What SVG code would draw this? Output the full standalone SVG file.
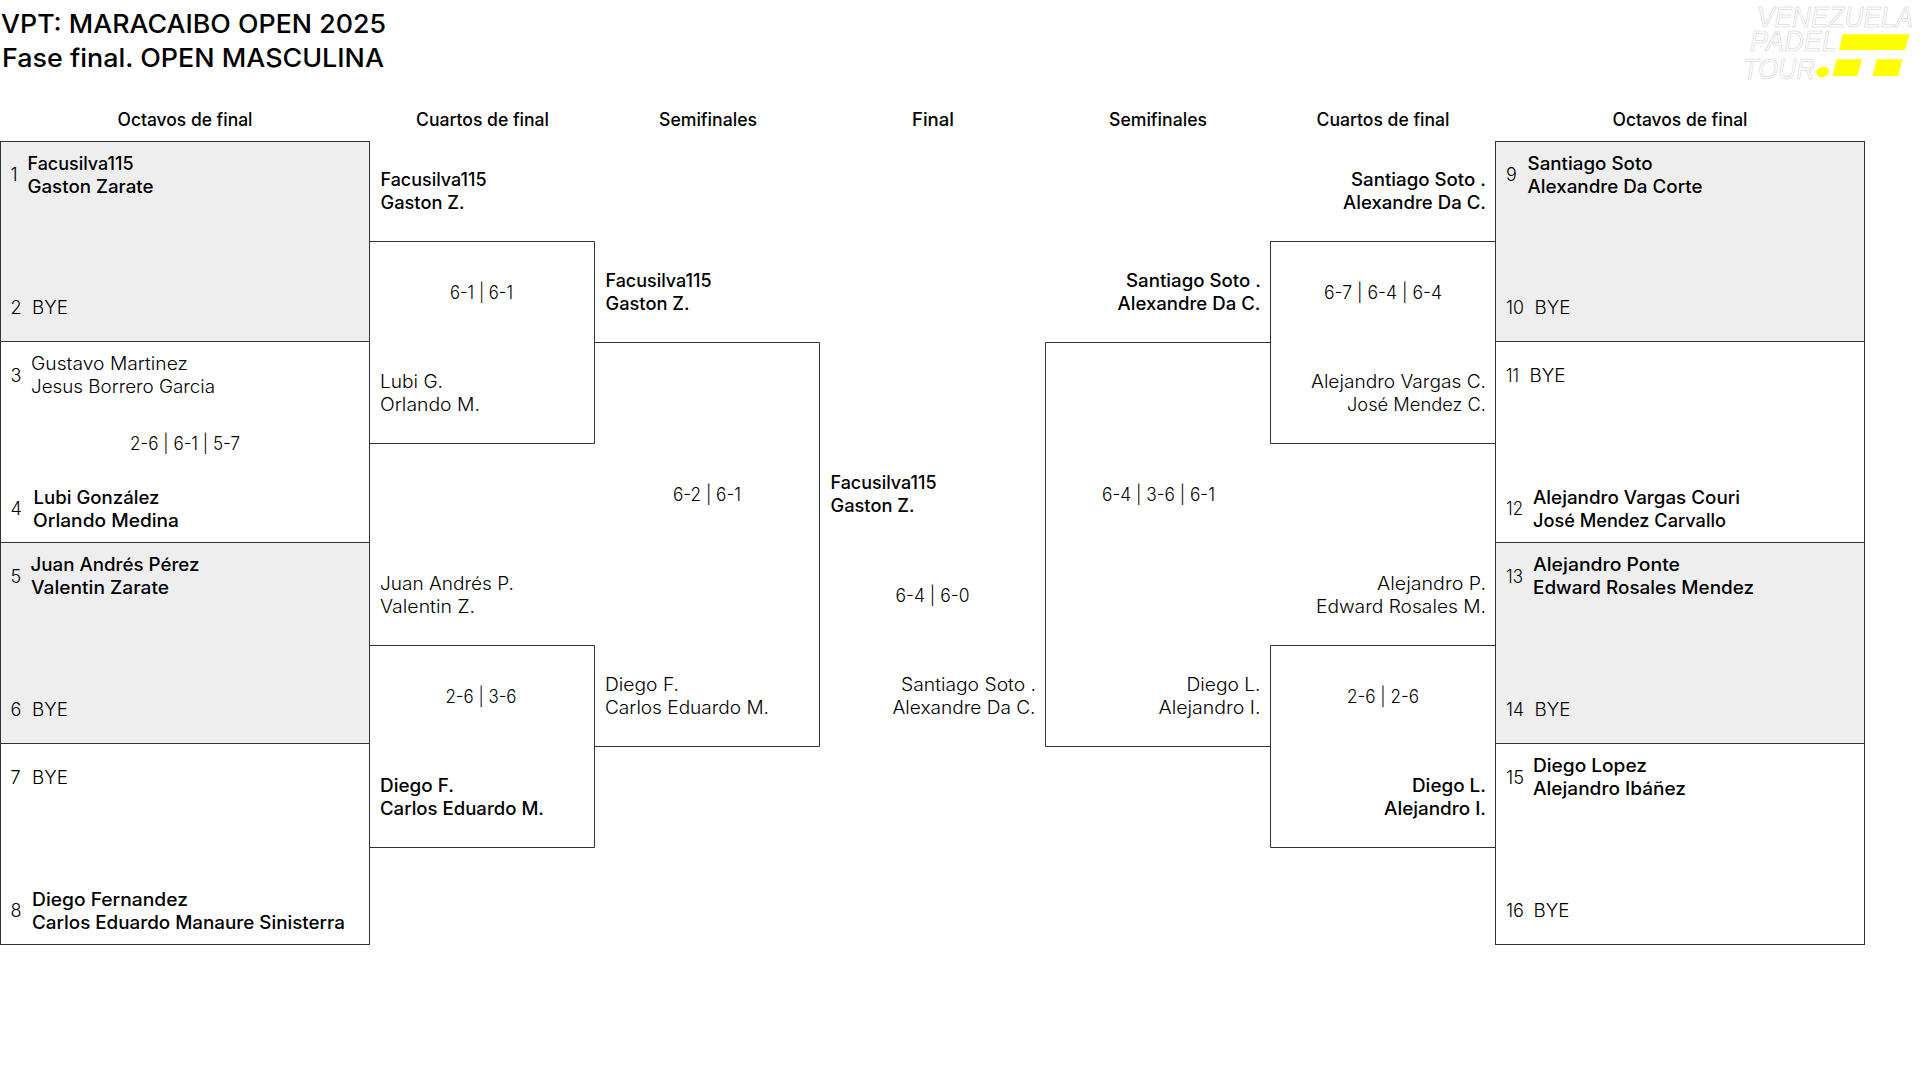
<svg xmlns="http://www.w3.org/2000/svg" width="1920" height="1067" viewBox="0 0 1920 1067">
<style>
text{font-family:"Inter","Noto Sans","Liberation Sans",sans-serif;font-size:18px;fill:#000;font-weight:300}
.w{font-weight:450}
.h{font-weight:450;text-anchor:middle}
.s{text-anchor:middle}
.e{text-anchor:end}
.t{font-size:25.5px;font-weight:450}
.logo{font-family:"Liberation Sans",sans-serif;font-style:italic;font-size:29px;fill:#fff;stroke:#d0d0d0;stroke-width:.6}
.box{stroke:#333;stroke-width:1;fill:#fff}
.g{fill:#eee}
.c{stroke:#333;stroke-width:1;fill:none}
.y{fill:#ff0}
</style>
<rect width="1920" height="1067" fill="#fff"/>
<g id="title">
<text class="t" x="1" y="33" textLength="385" lengthAdjust="spacingAndGlyphs">VPT: MARACAIBO OPEN 2025</text>
<text class="t" x="2" y="66.5" textLength="382" lengthAdjust="spacingAndGlyphs">Fase final. OPEN MASCULINA</text>
</g>
<g id="logo">
<text class="logo" transform="matrix(.905 0 0 1 1757 26.5)" x="0" y="0">VENEZUELA</text>
<text class="logo" x="1750" y="51" textLength="87" lengthAdjust="spacingAndGlyphs">PADEL</text>
<text class="logo" x="1743" y="78.5" textLength="72" lengthAdjust="spacingAndGlyphs">TOUR</text>
<ellipse class="y" cx="1822.7" cy="72" rx="6.5" ry="5" transform="rotate(-20 1822.7 72)"/>
<polygon class="y" points="1842.7,34.3 1909.3,34.3 1905,50 1839,50"/>
<polygon class="y" points="1836.7,59.3 1862,59.3 1857.3,76 1832.3,76"/>
<polygon class="y" points="1876.7,59.3 1902.3,59.3 1898.3,76 1872.7,76"/>
</g>
<g id="headers">
<text class="h" x="185" y="126" textLength="135" lengthAdjust="spacingAndGlyphs">Octavos de final</text>
<text class="h" x="482.5" y="126" textLength="133" lengthAdjust="spacingAndGlyphs">Cuartos de final</text>
<text class="h" x="708" y="126" textLength="98" lengthAdjust="spacingAndGlyphs">Semifinales</text>
<text class="h" x="933" y="126" textLength="42" lengthAdjust="spacingAndGlyphs">Final</text>
<text class="h" x="1158" y="126" textLength="98" lengthAdjust="spacingAndGlyphs">Semifinales</text>
<text class="h" x="1383" y="126" textLength="133" lengthAdjust="spacingAndGlyphs">Cuartos de final</text>
<text class="h" x="1680" y="126" textLength="135" lengthAdjust="spacingAndGlyphs">Octavos de final</text>
</g>
<g id="connectors">
<path class="c" d="M369.5 241.5H594.5V443.5H369.5M369.5 645.5H594.5V847.5H369.5"/>
<path class="c" d="M594.5 342.5H819.5V746.5H594.5"/>
<path class="c" d="M1495.5 241.5H1270.5V443.5H1495.5M1495.5 645.5H1270.5V847.5H1495.5"/>
<path class="c" d="M1270.5 342.5H1045.5V746.5H1270.5"/>
</g>
<g id="r16-left-1">
<rect class="box g" x="0.5" y="141.5" width="369" height="201"/>
<text x="10.5" y="181">1</text><text class="w" x="27.5" y="169.5" textLength="106" lengthAdjust="spacingAndGlyphs">Facusilva115</text><text class="w" x="27.5" y="192.5" textLength="126" lengthAdjust="spacingAndGlyphs">Gaston Zarate</text>
<text x="10.5" y="314">2</text><text x="32" y="314" textLength="36" lengthAdjust="spacingAndGlyphs">BYE</text>
</g>
<g id="r16-left-2">
<rect class="box" x="0.5" y="341.5" width="369" height="201"/>
<text x="10.5" y="382">3</text><text x="31" y="370" textLength="157" lengthAdjust="spacingAndGlyphs">Gustavo Martinez</text><text x="31" y="392.5" textLength="184" lengthAdjust="spacingAndGlyphs">Jesus Borrero Garcia</text>
<text class="s" x="185" y="449.5" textLength="110" lengthAdjust="spacingAndGlyphs">2-6 | 6-1 | 5-7</text>
<text x="10.5" y="514.5">4</text><text class="w" x="33.5" y="504" textLength="126" lengthAdjust="spacingAndGlyphs">Lubi González</text><text class="w" x="33" y="527" textLength="146" lengthAdjust="spacingAndGlyphs">Orlando Medina</text>
</g>
<g id="r16-left-3">
<rect class="box" x="0.5" y="542.5" width="369" height="201" style="fill:#eee"/>
<text x="10.5" y="582.5">5</text><text class="w" x="30.5" y="571" textLength="169" lengthAdjust="spacingAndGlyphs">Juan Andrés Pérez</text><text class="w" x="31" y="594" textLength="138" lengthAdjust="spacingAndGlyphs">Valentin Zarate</text>
<text x="10.5" y="716">6</text><text x="32" y="716" textLength="36" lengthAdjust="spacingAndGlyphs">BYE</text>
</g>
<g id="r16-left-4">
<rect class="box" x="0.5" y="743.5" width="369" height="201"/>
<text x="10.5" y="784">7</text><text x="32" y="784" textLength="36" lengthAdjust="spacingAndGlyphs">BYE</text>
<text x="10.5" y="916.5">8</text><text class="w" x="32" y="905.5" textLength="156" lengthAdjust="spacingAndGlyphs">Diego Fernandez</text><text class="w" x="32" y="928.5" textLength="313" lengthAdjust="spacingAndGlyphs">Carlos Eduardo Manaure Sinisterra</text>
</g>
<g id="qf-left-1">
<text class="w" x="380.5" y="185.5" textLength="106" lengthAdjust="spacingAndGlyphs">Facusilva115</text><text class="w" x="380.5" y="208.5" textLength="84" lengthAdjust="spacingAndGlyphs">Gaston Z.</text>
<text class="s" x="481.5" y="299" textLength="63" lengthAdjust="spacingAndGlyphs">6-1 | 6-1</text>
<text x="380" y="388" textLength="63" lengthAdjust="spacingAndGlyphs">Lubi G.</text><text x="380" y="411" textLength="100" lengthAdjust="spacingAndGlyphs">Orlando M.</text>
</g>
<g id="qf-left-2">
<text x="380" y="590" textLength="134" lengthAdjust="spacingAndGlyphs">Juan Andrés P.</text><text x="380" y="613" textLength="95" lengthAdjust="spacingAndGlyphs">Valentin Z.</text>
<text class="s" x="481" y="703" textLength="71" lengthAdjust="spacingAndGlyphs">2-6 | 3-6</text>
<text class="w" x="380" y="791.5" textLength="74" lengthAdjust="spacingAndGlyphs">Diego F.</text><text class="w" x="380" y="814.5" textLength="164" lengthAdjust="spacingAndGlyphs">Carlos Eduardo M.</text>
</g>
<g id="sf-left">
<text class="w" x="605.5" y="286.5" textLength="106" lengthAdjust="spacingAndGlyphs">Facusilva115</text><text class="w" x="605.5" y="309.5" textLength="84" lengthAdjust="spacingAndGlyphs">Gaston Z.</text>
<text class="s" x="707" y="501" textLength="68" lengthAdjust="spacingAndGlyphs">6-2 | 6-1</text>
<text x="605" y="691" textLength="74" lengthAdjust="spacingAndGlyphs">Diego F.</text><text x="605" y="714" textLength="164" lengthAdjust="spacingAndGlyphs">Carlos Eduardo M.</text>
</g>
<g id="final">
<text class="w" x="830.5" y="488.5" textLength="106" lengthAdjust="spacingAndGlyphs">Facusilva115</text><text class="w" x="830.5" y="511.5" textLength="84" lengthAdjust="spacingAndGlyphs">Gaston Z.</text>
<text class="s" x="932.5" y="602" textLength="74" lengthAdjust="spacingAndGlyphs">6-4 | 6-0</text>
<text class="e" x="1036" y="691" textLength="135" lengthAdjust="spacingAndGlyphs">Santiago Soto .</text><text class="e" x="1035.5" y="714" textLength="143" lengthAdjust="spacingAndGlyphs">Alexandre Da C.</text>
</g>
<g id="sf-right">
<text class="w e" x="1261" y="286.5" textLength="135" lengthAdjust="spacingAndGlyphs">Santiago Soto .</text><text class="w e" x="1260.5" y="309.5" textLength="143" lengthAdjust="spacingAndGlyphs">Alexandre Da C.</text>
<text class="s" x="1158.5" y="501" textLength="113" lengthAdjust="spacingAndGlyphs">6-4 | 3-6 | 6-1</text>
<text class="e" x="1260.5" y="691" textLength="74" lengthAdjust="spacingAndGlyphs">Diego L.</text><text class="e" x="1260.5" y="714" textLength="102" lengthAdjust="spacingAndGlyphs">Alejandro I.</text>
</g>
<g id="qf-right-1">
<text class="w e" x="1486" y="185.5" textLength="135" lengthAdjust="spacingAndGlyphs">Santiago Soto .</text><text class="w e" x="1486" y="208.5" textLength="143" lengthAdjust="spacingAndGlyphs">Alexandre Da C.</text>
<text class="s" x="1383" y="299" textLength="118" lengthAdjust="spacingAndGlyphs">6-7 | 6-4 | 6-4</text>
<text class="e" x="1486" y="388" textLength="175" lengthAdjust="spacingAndGlyphs">Alejandro Vargas C.</text><text class="e" x="1486" y="411" textLength="139" lengthAdjust="spacingAndGlyphs">José Mendez C.</text>
</g>
<g id="qf-right-2">
<text class="e" x="1486" y="590" textLength="109" lengthAdjust="spacingAndGlyphs">Alejandro P.</text><text class="e" x="1486" y="613" textLength="170" lengthAdjust="spacingAndGlyphs">Edward Rosales M.</text>
<text class="s" x="1383" y="703" textLength="72" lengthAdjust="spacingAndGlyphs">2-6 | 2-6</text>
<text class="w e" x="1486" y="791.5" textLength="74" lengthAdjust="spacingAndGlyphs">Diego L.</text><text class="w e" x="1486" y="814.5" textLength="102" lengthAdjust="spacingAndGlyphs">Alejandro I.</text>
</g>
<g id="r16-right-1">
<rect class="box g" x="1495.5" y="141.5" width="369" height="201"/>
<text x="1506" y="181">9</text><text class="w" x="1527.5" y="169.5" textLength="125" lengthAdjust="spacingAndGlyphs">Santiago Soto</text><text class="w" x="1527.5" y="192.5" textLength="175" lengthAdjust="spacingAndGlyphs">Alexandre Da Corte</text>
<text x="1506" y="314" textLength="18" lengthAdjust="spacingAndGlyphs">10</text><text x="1534.5" y="314" textLength="36" lengthAdjust="spacingAndGlyphs">BYE</text>
</g>
<g id="r16-right-2">
<rect class="box" x="1495.5" y="341.5" width="369" height="201"/>
<text x="1506" y="382" textLength="13" lengthAdjust="spacingAndGlyphs">11</text><text x="1529.5" y="382" textLength="36" lengthAdjust="spacingAndGlyphs">BYE</text>
<text x="1506" y="514.5" textLength="17" lengthAdjust="spacingAndGlyphs">12</text><text class="w" x="1533" y="504" textLength="207" lengthAdjust="spacingAndGlyphs">Alejandro Vargas Couri</text><text class="w" x="1533" y="527" textLength="193" lengthAdjust="spacingAndGlyphs">José Mendez Carvallo</text>
</g>
<g id="r16-right-3">
<rect class="box" x="1495.5" y="542.5" width="369" height="201" style="fill:#eee"/>
<text x="1506" y="582.5" textLength="17" lengthAdjust="spacingAndGlyphs">13</text><text class="w" x="1533" y="571" textLength="147" lengthAdjust="spacingAndGlyphs">Alejandro Ponte</text><text class="w" x="1533" y="594" textLength="221" lengthAdjust="spacingAndGlyphs">Edward Rosales Mendez</text>
<text x="1506" y="716" textLength="18" lengthAdjust="spacingAndGlyphs">14</text><text x="1534.5" y="716" textLength="36" lengthAdjust="spacingAndGlyphs">BYE</text>
</g>
<g id="r16-right-4">
<rect class="box" x="1495.5" y="743.5" width="369" height="201"/>
<text x="1506" y="783.5" textLength="18" lengthAdjust="spacingAndGlyphs">15</text><text class="w" x="1533" y="771.5" textLength="114" lengthAdjust="spacingAndGlyphs">Diego Lopez</text><text class="w" x="1533" y="794.5" textLength="153" lengthAdjust="spacingAndGlyphs">Alejandro Ibáñez</text>
<text x="1506" y="916.5" textLength="18" lengthAdjust="spacingAndGlyphs">16</text><text x="1533.5" y="916.5" textLength="36" lengthAdjust="spacingAndGlyphs">BYE</text>
</g>
</svg>
